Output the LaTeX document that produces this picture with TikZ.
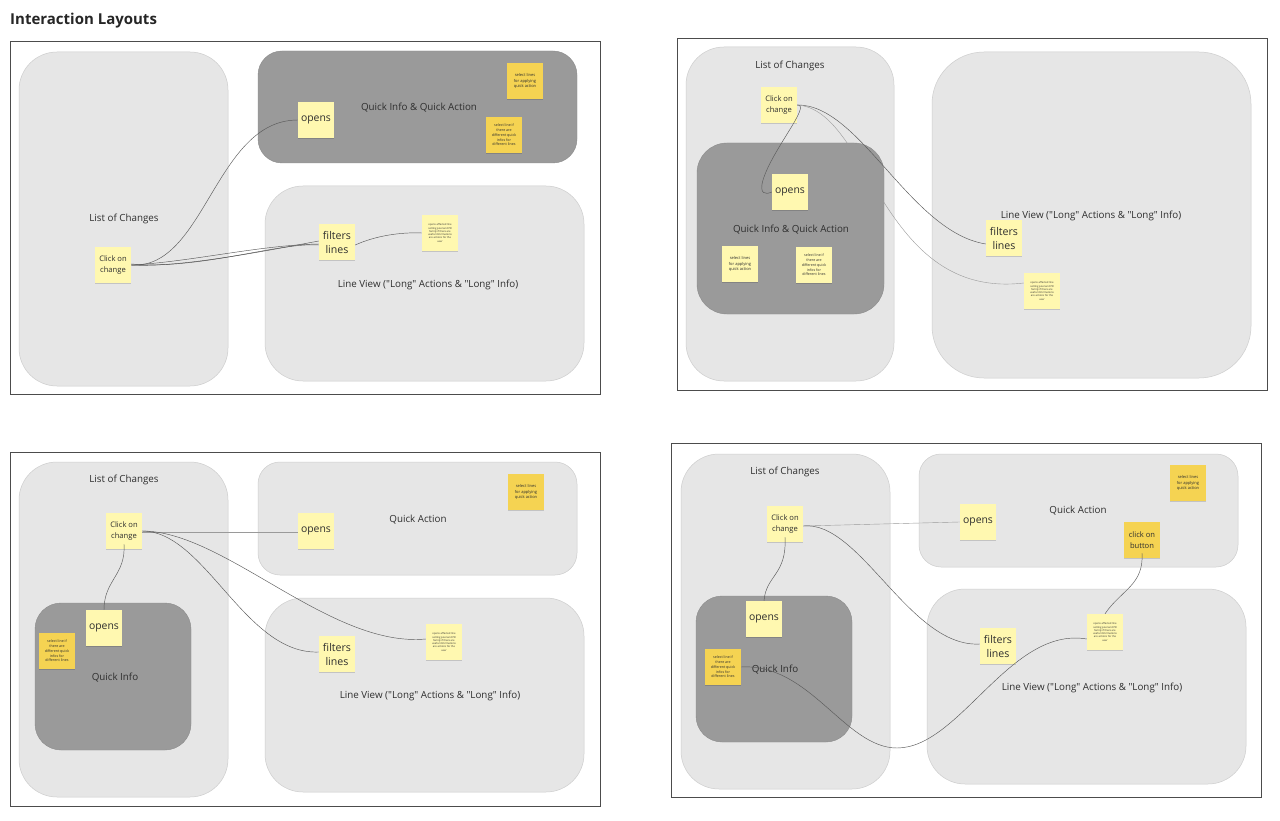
\documentclass[tikz,border=0pt]{standalone}
\usepackage{fontspec}
\setmainfont{Open Sans}
\usetikzlibrary{shadows}
\definecolor{panelfill}{HTML}{E6E6E6}
\definecolor{paneldraw}{HTML}{CDCDCD}
\definecolor{darkfill}{HTML}{9A9A9A}
\definecolor{stickylt}{HTML}{FFF8B0}
\definecolor{stickydk}{HTML}{F5D352}
\definecolor{conncol}{HTML}{5A5A5A}
\definecolor{connlt}{HTML}{9A9A9A}
\definecolor{textcol}{HTML}{2E2E2E}
\newcommand{\qq}{\textquotedbl}
\tikzset{
  frame/.style={draw=black!70, line width=0.7pt, fill=white},
  lightbox/.style={draw=paneldraw, line width=0.5pt, fill=panelfill, rounded corners=#1, minimum width=10, minimum height=10, inner sep=0},
  darkbox/.style={draw=darkfill!90!black, line width=0.4pt, fill=darkfill, rounded corners=#1, minimum width=10, minimum height=10, inner sep=0},
  boxlabel/.style={font=\fontsize{9.8}{11}\selectfont, text=textcol, inner sep=0},
  sticky/.style={fill=stickylt, minimum width=36, minimum height=36, inner sep=1, align=center, text=textcol,
    drop shadow={shadow xshift=0.2pt, shadow yshift=-1.2pt, opacity=0.15, fill=black}},
  stickydark/.style={sticky, fill=stickydk},
  smalltxt/.style={font=\fontsize{7.6}{10.5}\selectfont},
  midtxt/.style={font=\fontsize{10.4}{12}\selectfont},
  bigtxt/.style={font=\fontsize{10.6}{14}\selectfont},
  tinytxt/.style={font=\fontsize{2.6}{3.3}\selectfont},
  notetxt/.style={font=\fontsize{4}{5.2}\selectfont},
  conn/.style={draw=conncol, line width=0.45pt},
  connlight/.style={draw=connlt, line width=0.4pt},
}
\begin{document}
\begin{tikzpicture}[x=1pt,y=-1pt]
\useasboundingbox (0,0) rectangle (1280,821);
\fill[white] (0,0) rectangle (1280,821);
\node[anchor=west, font=\fontsize{15}{18}\selectfont\bfseries, text=black!85, inner sep=0] (title) at (10,21) {Interaction Layouts};

% ================= Q1 =================
\draw[frame] (10,41) rectangle (600,394);
\node[lightbox=38, minimum width=209, minimum height=334] (aList) at (123.5,219) {};
\node[boxlabel] (aListL) at (124,219) {List of Changes};
\node[darkbox=24, minimum width=319, minimum height=112] (aQ) at (417.5,107) {};
\node[boxlabel] (aQL) at (419,108) {Quick Info \& Quick Action};
\node[lightbox=38, minimum width=319, minimum height=195] (aLV) at (424.5,283.5) {};
\node[boxlabel] (aLVL) at (428,285) {Line View (\qq Long\qq{} Actions \& \qq Long\qq{} Info)};
\node[sticky, smalltxt] (aClick) at (113,265) {Click on\\change};
\node[sticky, midtxt] (aOpens) at (316,120) {opens};
\node[stickydark, notetxt] (aSel) at (525,81) {select lines\\for applying\\quick action};
\node[stickydark, notetxt, font=\fontsize{3.6}{4.8}\selectfont] (aSelIf) at (504,135) {select line if\\there are\\different quick\\infos for\\different lines};
\node[sticky, bigtxt] (aFilt) at (337,242) {filters\\lines};
\node[sticky, tinytxt] (aNote) at (440,233) {opens affected line\\setting pool and PR\\family if there are\\useful informations\\are actions for the\\user};
\draw[conn] (aClick.east) .. controls (205,270) and (215,120) .. (aOpens.west);
\draw[conn] (aClick.east) .. controls (190,262) and (260,245) .. ([yshift=-2]aFilt.west);
\draw[conn] (aClick.east) .. controls (180,268) and (270,250) .. ([yshift=1]aFilt.west);
\draw[conn] ([yshift=1]aClick.east) .. controls (200,270) and (280,242) .. ([yshift=-3]aFilt.west);
\draw[conn] ([yshift=-3]aFilt.east) .. controls (375,236) and (400,232) .. (aNote.west);

% ================= Q2 =================
\draw[frame] (677,38) rectangle (1267,390);
\node[lightbox=38, minimum width=208, minimum height=334] (bList) at (790,214) {};
\node[boxlabel] (bListL) at (790,66) {List of Changes};
\node[darkbox=30, minimum width=187, minimum height=171] (bQ) at (790.5,228.5) {};
\node[boxlabel] (bQL) at (791,230) {Quick Info \& Quick Action};
\node[lightbox=52, minimum width=319, minimum height=326] (bLV) at (1091.5,215) {};
\node[boxlabel] (bLVL) at (1091,216) {Line View (\qq Long\qq{} Actions \& \qq Long\qq{} Info)};
\node[sticky, smalltxt] (bClick) at (779,105) {Click on\\change};
\node[sticky, midtxt] (bOpens) at (790,192) {opens};
\node[sticky, notetxt] (bSel) at (740,264) {select lines\\for applying\\quick action};
\node[sticky, notetxt, font=\fontsize{3.6}{4.8}\selectfont] (bSelIf) at (814,265) {select line if\\there are\\different quick\\infos for\\different lines};
\node[sticky, bigtxt] (bFilt) at (1004,238) {filters\\lines};
\node[sticky, tinytxt] (bNote) at (1042,291) {opens affected line\\setting pool and PR\\family if there are\\useful informations\\are actions for the\\user};
\draw[conn] (bClick.east) .. controls (812,104) and (772,150) .. (763,180) .. controls (759,194) and (765,195) .. (bOpens.west);
\draw[conn] (bClick.east) .. controls (860,104) and (910,232) .. ([yshift=-6]bFilt.west);
\draw[connlight] (bClick.east) .. controls (870,110) and (880,300) .. ([yshift=8]bNote.west);

% ================= Q3 =================
\draw[frame] (10,452) rectangle (600,806);
\node[lightbox=38, minimum width=209, minimum height=335] (cList) at (123.5,629.5) {};
\node[boxlabel] (cListL) at (124,480) {List of Changes};
\node[lightbox=22, minimum width=319, minimum height=113] (cQA) at (417.5,518.5) {};
\node[boxlabel] (cQAL) at (418,520) {Quick Action};
\node[darkbox=26, minimum width=156, minimum height=147] (cQI) at (113,676.5) {};
\node[boxlabel] (cQIL) at (115,678) {Quick Info};
\node[lightbox=38, minimum width=319, minimum height=194] (cLV) at (424.5,695) {};
\node[boxlabel] (cLVL) at (430,696) {Line View (\qq Long\qq{} Actions \& \qq Long\qq{} Info)};
\node[sticky, smalltxt] (cClick) at (124,531) {Click on\\change};
\node[sticky, midtxt] (cOpensA) at (316,531) {opens};
\node[stickydark, notetxt] (cSel) at (526,492) {select lines\\for applying\\quick action};
\node[sticky, midtxt] (cOpensI) at (104,628) {opens};
\node[stickydark, notetxt, font=\fontsize{3.6}{4.8}\selectfont] (cSelIf) at (57,651) {select line if\\there are\\different quick\\infos for\\different lines};
\node[sticky, bigtxt] (cFilt) at (337,654) {filters\\lines};
\node[sticky, tinytxt] (cNote) at (444,642) {opens affected line\\setting pool and PR\\family if there are\\useful informations\\are actions for the\\user};
\draw[connlight] ([yshift=-1]cClick.east) -- ([yshift=-1]cOpensA.west);
\draw[conn] ([yshift=5]cClick.south) .. controls (126,575) and (104,580) .. (cOpensI.north);
\draw[conn] (cClick.east) .. controls (205,531) and (245,655) .. ([yshift=2]cFilt.west);
\draw[conn] (cClick.east) .. controls (225,531) and (330,648) .. ([yshift=3]cNote.west);

% ================= Q4 =================
\draw[frame] (671,443) rectangle (1261,797);
\node[lightbox=38, minimum width=209, minimum height=335] (dList) at (785.5,621.5) {};
\node[boxlabel] (dListL) at (785,472) {List of Changes};
\node[lightbox=22, minimum width=319, minimum height=113] (dQA) at (1078.5,510.5) {};
\node[boxlabel] (dQAL) at (1078,511) {Quick Action};
\node[darkbox=26, minimum width=156, minimum height=146] (dQI) at (774,669) {};
\node[boxlabel] (dQIL) at (775,670) {Quick Info};
\node[lightbox=38, minimum width=319, minimum height=195] (dLV) at (1086.5,686.5) {};
\node[boxlabel] (dLVL) at (1092,688) {Line View (\qq Long\qq{} Actions \& \qq Long\qq{} Info)};
\node[sticky, smalltxt] (dClick) at (785,524) {Click on\\change};
\node[sticky, midtxt] (dOpensA) at (978,522) {opens};
\node[stickydark, notetxt] (dSel) at (1188,483) {select lines\\for applying\\quick action};
\node[stickydark, smalltxt] (dBtn) at (1142,540) {click on\\button};
\node[sticky, midtxt] (dOpensI) at (764,619) {opens};
\node[stickydark, notetxt, font=\fontsize{3.6}{4.8}\selectfont] (dSelIf) at (723,667) {select line if\\there are\\different quick\\infos for\\different lines};
\node[sticky, bigtxt] (dFilt) at (998,646) {filters\\lines};
\node[sticky, tinytxt] (dNote) at (1105,632) {opens affected line\\setting pool and PR\\family if there are\\useful informations\\are actions for the\\user};
\draw[connlight] ([yshift=-2]dClick.east) -- (dOpensA.west);
\draw[conn] ([yshift=5]dClick.south) .. controls (787,575) and (766,575) .. (dOpensI.north);
\draw[conn] ([yshift=-2]dClick.east) .. controls (860,520) and (910,648) .. ([yshift=2]dFilt.west);
\draw[conn] (dSelIf.east) .. controls (810,663) and (845,748) .. (897,748) .. controls (960,748) and (1010,626) .. ([yshift=-7]dNote.west);
\draw[conn] ([yshift=5]dBtn.south) .. controls (1144,585) and (1121,590) .. (dNote.north);
\end{tikzpicture}
\end{document}
